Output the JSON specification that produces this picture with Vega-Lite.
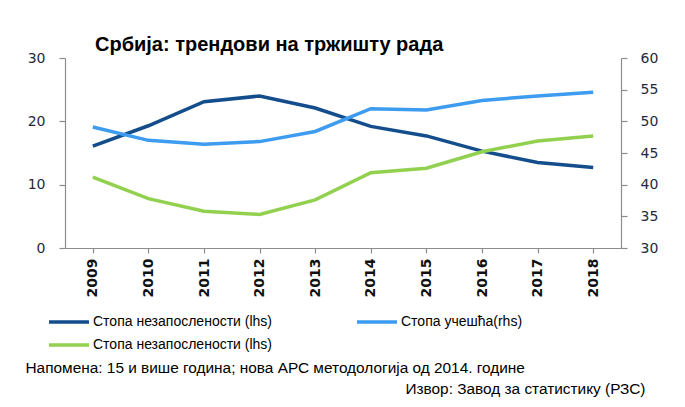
{
  "$schema": "https://vega.github.io/schema/vega-lite/v6.json",
  "width": 556,
  "height": 190,
  "autosize": {"type": "none"},
  "padding": {"left": 65, "top": 58, "right": 64, "bottom": 159},
  "background": "white",
  "config": {
    "view": {"stroke": null},
    "font": "Liberation Sans",
    "axis": {"grid": false, "domainColor": "#8c8c8c", "tickColor": "#8c8c8c", "domainWidth": 1.2, "tickWidth": 1.2}
  },
  "title": {
    "text": "Србија: трендови на тржишту рада",
    "anchor": "start",
    "frame": "group",
    "dx": 30,
    "offset": -4,
    "font": "Liberation Sans",
    "fontSize": 20,
    "fontWeight": "bold",
    "color": "#000000"
  },
  "data": {
    "values": [
      {"year": "2009", "series": "Стопа незапослености (lhs)", "value": 16.1},
      {"year": "2010", "series": "Стопа незапослености (lhs)", "value": 19.3},
      {"year": "2011", "series": "Стопа незапослености (lhs)", "value": 23.1},
      {"year": "2012", "series": "Стопа незапослености (lhs)", "value": 24.0},
      {"year": "2013", "series": "Стопа незапослености (lhs)", "value": 22.1},
      {"year": "2014", "series": "Стопа незапослености (lhs)", "value": 19.2},
      {"year": "2015", "series": "Стопа незапослености (lhs)", "value": 17.7},
      {"year": "2016", "series": "Стопа незапослености (lhs)", "value": 15.3},
      {"year": "2017", "series": "Стопа незапослености (lhs)", "value": 13.5},
      {"year": "2018", "series": "Стопа незапослености (lhs)", "value": 12.7},
      {"year": "2009", "series": "Стопа учешћа(rhs)", "value": 49.1},
      {"year": "2010", "series": "Стопа учешћа(rhs)", "value": 47.0},
      {"year": "2011", "series": "Стопа учешћа(rhs)", "value": 46.4},
      {"year": "2012", "series": "Стопа учешћа(rhs)", "value": 46.8},
      {"year": "2013", "series": "Стопа учешћа(rhs)", "value": 48.4},
      {"year": "2014", "series": "Стопа учешћа(rhs)", "value": 52.0},
      {"year": "2015", "series": "Стопа учешћа(rhs)", "value": 51.8},
      {"year": "2016", "series": "Стопа учешћа(rhs)", "value": 53.3},
      {"year": "2017", "series": "Стопа учешћа(rhs)", "value": 54.0},
      {"year": "2018", "series": "Стопа учешћа(rhs)", "value": 54.6},
      {"year": "2009", "series": "Стопа незапослености (lhs) ", "value": 41.2},
      {"year": "2010", "series": "Стопа незапослености (lhs) ", "value": 37.8},
      {"year": "2011", "series": "Стопа незапослености (lhs) ", "value": 35.8},
      {"year": "2012", "series": "Стопа незапослености (lhs) ", "value": 35.3},
      {"year": "2013", "series": "Стопа незапослености (lhs) ", "value": 37.6},
      {"year": "2014", "series": "Стопа незапослености (lhs) ", "value": 41.9},
      {"year": "2015", "series": "Стопа незапослености (lhs) ", "value": 42.6},
      {"year": "2016", "series": "Стопа незапослености (lhs) ", "value": 45.2},
      {"year": "2017", "series": "Стопа незапослености (lhs) ", "value": 46.9},
      {"year": "2018", "series": "Стопа незапослености (lhs) ", "value": 47.7}
    ]
  },
  "encoding": {
    "x": {
      "field": "year",
      "type": "ordinal",
      "scale": {"paddingInner": 0, "paddingOuter": 0},
      "axis": {
        "title": null,
        "labelAngle": -90,
        "labelAlign": "right",
        "labelBaseline": "middle",
        "labelFont": "DejaVu Sans",
        "labelFontWeight": "bold",
        "labelFontSize": 14,
        "labelColor": "#111111",
        "labelPadding": 5,
        "tickSize": 5,
        "bandPosition": 0
      }
    },
    "color": {
      "field": "series",
      "type": "nominal",
      "scale": {
        "domain": ["Стопа незапослености (lhs)", "Стопа учешћа(rhs)", "Стопа незапослености (lhs) "],
        "range": ["#134d8c", "#3d9cf0", "#92d050"]
      },
      "legend": {
        "title": null,
        "orient": "none",
        "legendX": -18,
        "legendY": 252,
        "direction": "horizontal",
        "columns": 2,
        "columnPadding": 77,
        "rowPadding": 4,
        "symbolType": "M-1,0H3",
        "symbolSize": 400,
        "symbolStrokeWidth": 3.5,
        "labelFont": "Liberation Sans",
        "labelFontSize": 14,
        "labelColor": "#000000",
        "labelOffset": 22,
        "labelLimit": 300
      }
    }
  },
  "layer": [
    {
      "transform": [{"filter": "datum.series === 'Стопа незапослености (lhs)'"}],
      "mark": {"type": "line", "strokeWidth": 3.5},
      "encoding": {
        "y": {
          "field": "value",
          "type": "quantitative",
          "scale": {"domain": [0, 30], "nice": false},
          "axis": {
            "orient": "left",
            "values": [0, 10, 20, 30],
            "labelFont": "DejaVu Sans",
            "labelFontSize": 14,
            "labelColor": "#1e2a3a",
            "labelPadding": 14,
            "tickSize": 6,
            "title": "Напомена: 15 и више година; нова АРС методологија од 2014. године",
            "titleAngle": 0,
            "titleAlign": "left",
            "titleBaseline": "alphabetic",
            "titleX": -40,
            "titleY": 314,
            "titleFont": "Liberation Sans",
            "titleFontSize": 15.4,
            "titleFontWeight": "normal",
            "titleColor": "#000000"
          }
        }
      }
    },
    {
      "transform": [{"filter": "datum.series !== 'Стопа незапослености (lhs)'"}],
      "mark": {"type": "line", "strokeWidth": 3.5},
      "encoding": {
        "y": {
          "field": "value",
          "type": "quantitative",
          "scale": {"domain": [30, 60], "nice": false, "zero": false},
          "axis": {
            "orient": "right",
            "values": [30, 35, 40, 45, 50, 55, 60],
            "labelFont": "DejaVu Sans",
            "labelFontSize": 14,
            "labelColor": "#1e2a3a",
            "labelPadding": 13,
            "tickSize": 6,
            "title": "Извор: Завод за статистику (РЗС)",
            "titleAngle": 0,
            "titleAlign": "right",
            "titleBaseline": "alphabetic",
            "titleX": 24,
            "titleY": 335,
            "titleFont": "Liberation Sans",
            "titleFontSize": 15.4,
            "titleFontWeight": "normal",
            "titleColor": "#000000"
          }
        }
      }
    }
  ],
  "resolve": {"scale": {"y": "independent"}}
}
